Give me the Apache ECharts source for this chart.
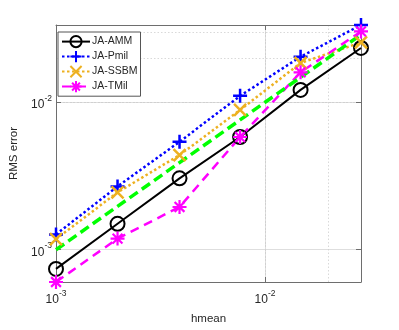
<!DOCTYPE html>
<html>
<head>
<meta charset="utf-8">
<script src="https://cdn.jsdelivr.net/npm/echarts@6/dist/echarts.min.js"></script>
<style>
html,body{margin:0;padding:0;background:#fff;}
#c{width:399px;height:330px;}
</style>
</head>
<body>
<div id="c"></div>
<script>
// ---- data ----
const hmean = [0.001, 0.00197, 0.0039, 0.0076, 0.0148, 0.0288];
const amm   = [7.41e-4, 1.50e-3, 3.05e-3, 5.82e-3, 1.215e-2, 2.34e-2];
const pmil  = [1.27e-3, 2.69e-3, 5.40e-3, 1.107e-2, 2.04e-2, 3.35e-2];
const ssbm  = [1.18e-3, 2.45e-3, 4.39e-3, 8.88e-3, 1.85e-2, 2.55e-2];
const tmil  = [6.04e-4, 1.19e-3, 1.95e-3, 5.82e-3, 1.60e-2, 3.03e-2];
const refLine = [0.001, 0.00197, 0.0039, 0.0076, 0.0148, 0.0288];
const seriesNames = ['JA-AMM', 'JA-Pmil', 'JA-SSBM', 'JA-TMil'];
const xMinorTicks = [0.002,0.003,0.004,0.005,0.006,0.007,0.008,0.009,0.02];
const yMinorTicks = [0.0007,0.0008,0.0009,0.002,0.003,0.004,0.005,0.006,0.007,0.008,0.009,0.02,0.03];
const xTitle = 'hmean';
const yTitle = 'RMS error';

const pairs = (xs, ys) => xs.map((x, i) => [x, ys[i]]);
const FONT = '"Liberation Sans", Arial, sans-serif';
const TXT = '#262626';

function powLabel(v) {
  const e = Math.log10(v);
  const r = Math.round(e);
  if (Math.abs(e - r) > 1e-6) return '';
  return '{b|10}{s|' + r + '}';
}
const richLbl = {
  b: {fontSize: 12, color: TXT, fontFamily: FONT, verticalAlign: 'bottom', lineHeight: 17},
  s: {fontSize: 8.5, color: TXT, fontFamily: FONT, verticalAlign: 'top', lineHeight: 17}
};

const plusPath = 'path://M5 0L5 10M0 5L10 5';
const crossPath = 'path://M0 0L10 10M10 0L0 10';
const starPath = 'path://M5 0L5 10M0 5L10 5M1.5 1.5L8.5 8.5M8.5 1.5L1.5 8.5';

const minorStyle = {color: '#cfcfcf', type: [1.5, 2], width: 0.8};
const gridMarks = xMinorTicks.map(v => ({xAxis: v, lineStyle: minorStyle}))
  .concat(yMinorTicks.map(v => ({yAxis: v, lineStyle: minorStyle})));

const chart = echarts.init(document.getElementById('c'), null, {renderer: 'canvas'});
const axisCommon = {
  type: 'log', logBase: 10,
  axisLine: {show: true, lineStyle: {color: '#6e6e6e', width: 1}},
  axisTick: {show: true, inside: true, length: 5, lineStyle: {color: '#6e6e6e'}},
  splitLine: {show: false}
};
chart.setOption({
  animation: false,
  backgroundColor: '#fff',
  grid: {left: 53, top: 25, right: 38, bottom: 45, containLabel: false},
  legend: {
    orient: 'vertical', left: 58, top: 32, z: 10,
    data: seriesNames,
    itemWidth: 28, itemHeight: 14, itemGap: 1.8,
    padding: [3, 3, 3, 3],
    borderColor: '#555', borderWidth: 1, backgroundColor: '#fff',
    textStyle: {fontSize: 10.5, color: TXT, fontFamily: FONT, padding: [0, 0, 0, -3]}
  },
  xAxis: [
    Object.assign({}, axisCommon, {
      min: 0.001, max: 0.0288,
      name: xTitle, nameLocation: 'middle', nameGap: 31,
      nameTextStyle: {fontSize: 11.5, color: TXT, fontFamily: FONT},
      axisLabel: {formatter: powLabel, rich: richLbl, margin: 7, showMinLabel: true, showMaxLabel: true},
      splitLine: {show: true, lineStyle: {color: '#dedede', width: 1}}
    }),
    Object.assign({}, axisCommon, {
      position: 'top', min: 0.001, max: 0.0288,
      axisLabel: {show: false}
    })
  ],
  yAxis: [
    Object.assign({}, axisCommon, {
      min: 6.04e-4, max: 3.35e-2,
      name: yTitle, nameLocation: 'middle', nameGap: 36, nameRotate: 90,
      nameTextStyle: {fontSize: 11.5, color: TXT, fontFamily: FONT},
      axisLabel: {formatter: powLabel, rich: richLbl, margin: 4},
      splitLine: {show: true, lineStyle: {color: '#dedede', width: 1}}
    }),
    Object.assign({}, axisCommon, {
      position: 'right', min: 6.04e-4, max: 3.35e-2,
      axisLabel: {show: false}
    })
  ],
  series: [
    {
      name: seriesNames[0], type: 'line', data: pairs(hmean, amm),
      symbol: 'circle', symbolSize: 14,
      lineStyle: {color: '#000', width: 2},
      itemStyle: {color: 'rgba(0,0,0,0)', borderColor: '#000', borderWidth: 2}
    },
    {
      name: seriesNames[1], type: 'line', data: pairs(hmean, pmil),
      symbol: plusPath, symbolSize: 14,
      lineStyle: {color: '#0000ff', width: 2.5, type: [2.5, 2.5]},
      itemStyle: {color: 'rgba(0,0,0,0)', borderColor: '#0000ff', borderWidth: 2.5}
    },
    {
      name: seriesNames[2], type: 'line', data: pairs(hmean, ssbm),
      symbol: crossPath, symbolSize: 12,
      lineStyle: {color: '#EDB120', width: 2.5, type: [2.5, 2.5]},
      itemStyle: {color: 'rgba(0,0,0,0)', borderColor: '#EDB120', borderWidth: 2.5}
    },
    {
      name: seriesNames[3], type: 'line', data: pairs(hmean, tmil),
      symbol: starPath, symbolSize: 14,
      lineStyle: {color: '#ff00ff', width: 2.5, type: [9, 6]},
      itemStyle: {color: 'rgba(0,0,0,0)', borderColor: '#ff00ff', borderWidth: 2.2}
    },
    {
      name: 'ref', type: 'line', data: pairs(hmean, refLine),
      symbol: 'none',
      lineStyle: {color: '#00ff00', width: 3.5, type: [10, 5]},
      markLine: {silent: true, symbol: ['none', 'none'], label: {show: false}, data: gridMarks, animation: false, z: 0}
    }
  ]
});
</script>
</body>
</html>
